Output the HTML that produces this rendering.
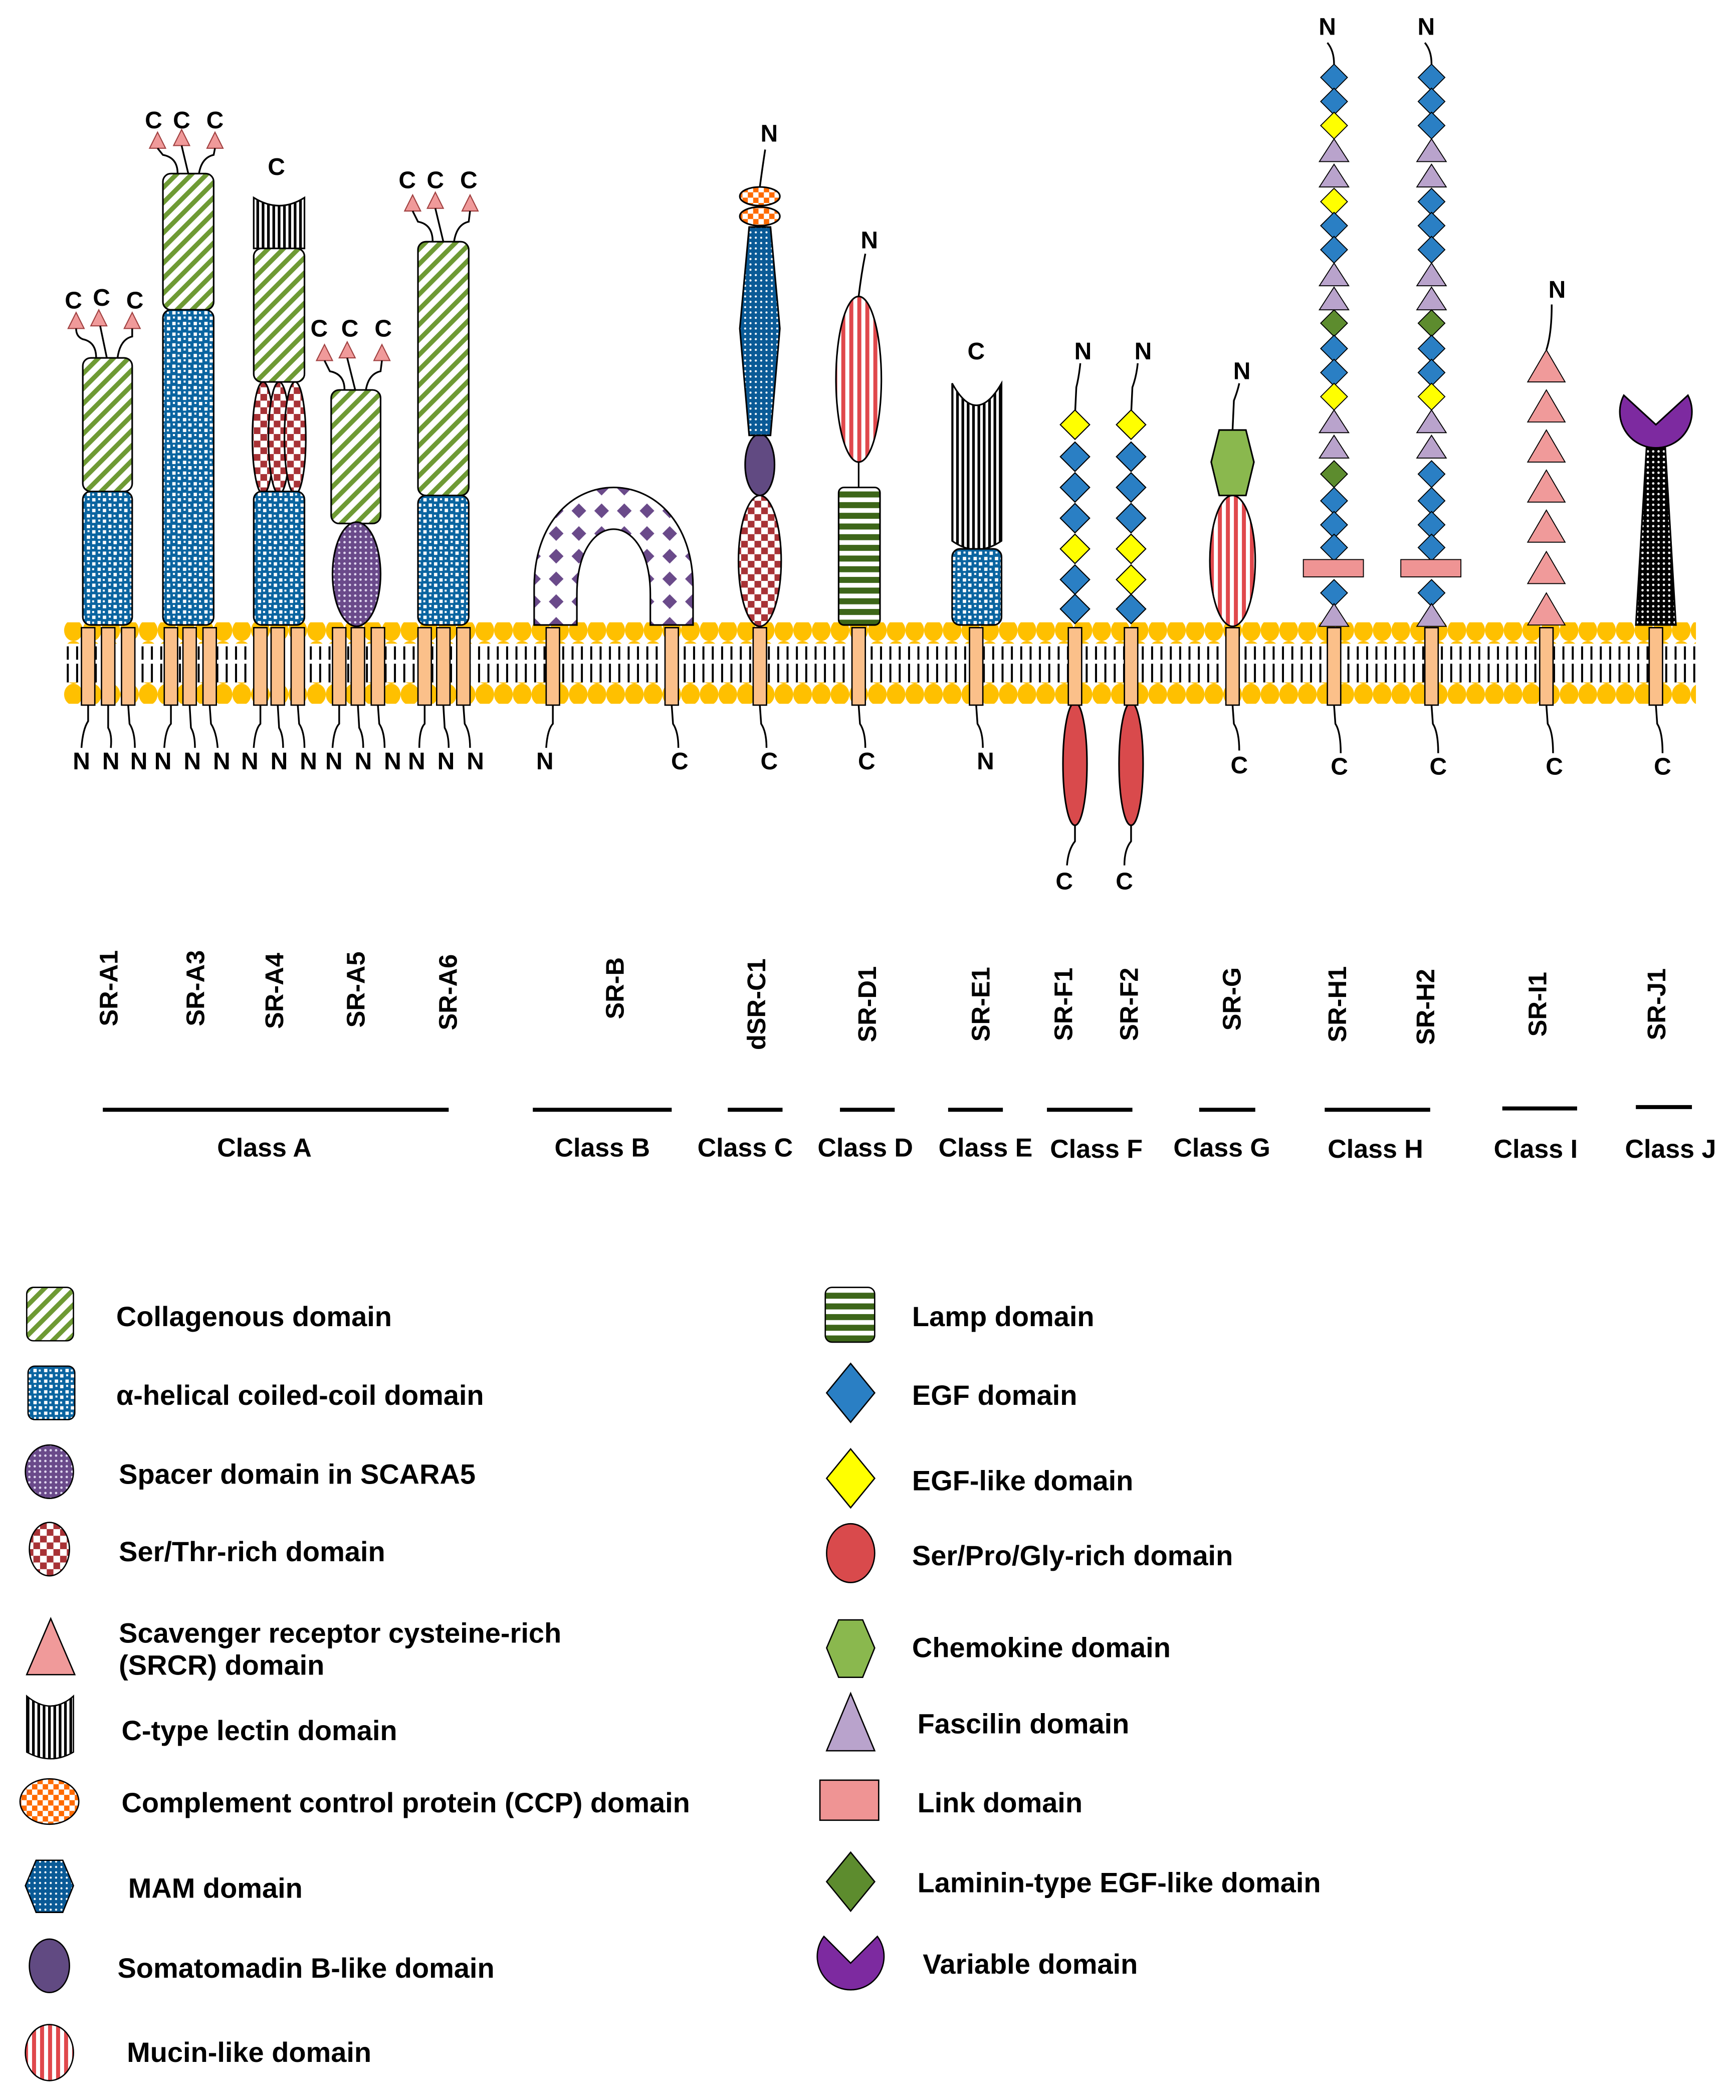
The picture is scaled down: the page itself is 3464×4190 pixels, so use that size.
<!DOCTYPE html>
<html><head><meta charset="utf-8"><style>
html,body{margin:0;padding:0;background:#fff;}
svg{display:block;}
text{font-family:"Liberation Sans",Arial,sans-serif;font-weight:bold;fill:#000;}
</style></head><body>
<svg width="3464" height="4190" viewBox="0 0 1300 1572.5" preserveAspectRatio="none" xmlns="http://www.w3.org/2000/svg">
<defs>
<pattern id="coll" width="8" height="8" patternUnits="userSpaceOnUse" patternTransform="rotate(45)"><rect width="8" height="8" fill="#fff"/><rect width="3.5" height="8" fill="#6e9a34"/></pattern>
<pattern id="blue" width="8" height="8" patternUnits="userSpaceOnUse"><rect width="8" height="8" fill="#0a64a0"/><rect x="1" y="1" width="2.5" height="2.5" fill="#fff"/><rect x="5" y="5" width="2.5" height="2.5" fill="#fff"/><rect x="5" y="1.5" width="1.5" height="1.5" fill="#fff"/><rect x="1.5" y="5" width="1.5" height="1.5" fill="#fff"/></pattern>
<pattern id="mam" width="4" height="4" patternUnits="userSpaceOnUse"><rect width="4" height="4" fill="#0a5a96"/><circle cx="2" cy="2" r="0.8" fill="#fff"/></pattern>
<pattern id="red" width="10" height="10" patternUnits="userSpaceOnUse"><rect width="10" height="10" fill="#fff"/><rect width="5" height="5" fill="#a83236"/><rect x="5" y="5" width="5" height="5" fill="#a83236"/></pattern>
<pattern id="ccp" width="8" height="8" patternUnits="userSpaceOnUse"><rect width="8" height="8" fill="#fff"/><rect width="4" height="4" fill="#ff6a00"/><rect x="4" y="4" width="4" height="4" fill="#ff6a00"/></pattern>
<pattern id="muc" width="6" height="6" patternUnits="userSpaceOnUse"><rect width="6" height="6" fill="#fff"/><rect width="3" height="6" fill="#e0484c"/></pattern>
<pattern id="lamp" width="6" height="8" patternUnits="userSpaceOnUse"><rect width="6" height="8" fill="#fff"/><rect width="6" height="4.5" fill="#3d6619"/></pattern>
<pattern id="lec" width="4" height="6" patternUnits="userSpaceOnUse"><rect width="4" height="6" fill="#fff"/><rect width="2" height="6" fill="#000"/></pattern>
<pattern id="pdot" width="4" height="4" patternUnits="userSpaceOnUse"><rect width="4" height="4" fill="#6a4a8a"/><circle cx="2" cy="2" r="0.9" fill="#e0d8f0"/></pattern>
<pattern id="sp" width="4" height="4" patternUnits="userSpaceOnUse"><rect width="4" height="4" fill="#000"/><circle cx="2" cy="2" r="0.9" fill="#fff"/></pattern>
<pattern id="srb" width="17" height="17" patternUnits="userSpaceOnUse"><rect width="17" height="17" fill="#fff"/><polygon points="8.5,3 14,8.5 8.5,14 3,8.5" fill="#6a4a8a"/></pattern>
<pattern id="mtop" width="14" height="16" patternUnits="userSpaceOnUse" x="48"><ellipse cx="7" cy="8" rx="7" ry="8" fill="#ffc000"/></pattern>
<pattern id="tails" width="7" height="40" patternUnits="userSpaceOnUse" x="48"><rect x="2" y="0" width="1.5" height="14" fill="#000"/><rect x="2" y="17" width="1.5" height="14" fill="#000"/></pattern>
<g id="tm"><rect x="-5" y="470" width="10" height="58" fill="#fbc08a" stroke="#000" stroke-width="1"/></g>
</defs>

<rect x="48" y="484" width="1222" height="31" fill="url(#tails)"/>
<rect x="48" y="466" width="1222" height="16" fill="url(#mtop)"/>
<rect x="48" y="511" width="1222" height="16" fill="url(#mtop)"/>

<g stroke="#000" stroke-width="1.2">
<rect x="62" y="268" width="37" height="100" rx="6" fill="url(#coll)"/>
<rect x="62" y="368" width="37" height="100" rx="6" fill="url(#blue)"/>
<rect x="122" y="130" width="38" height="102" rx="6" fill="url(#coll)"/>
<rect x="122" y="232" width="38" height="236" rx="6" fill="url(#blue)"/>
<path d="M190,148 Q209,160 228,148 L228,186 L190,186 Z" fill="url(#lec)"/>
<rect x="190" y="186" width="38" height="100" rx="6" fill="url(#coll)"/>
<ellipse cx="197" cy="328" rx="8" ry="42" fill="url(#red)"/>
<ellipse cx="209" cy="328" rx="8" ry="42" fill="url(#red)"/>
<ellipse cx="221" cy="328" rx="8" ry="42" fill="url(#red)"/>
<rect x="190" y="368" width="38" height="100" rx="6" fill="url(#blue)"/>
<rect x="248" y="292" width="37" height="100" rx="6" fill="url(#coll)"/>
<ellipse cx="267" cy="430" rx="18" ry="39" fill="url(#pdot)"/>
<rect x="313" y="181" width="38" height="190" rx="6" fill="url(#coll)"/>
<rect x="313" y="371" width="38" height="97" rx="6" fill="url(#blue)"/>
<path d="M400,468 L400,440 C400,340 519,340 519,440 L519,468 L487,468 L487,445 C487,380 432,380 432,445 L432,468 Z" fill="url(#srb)"/>
<ellipse cx="569" cy="420" rx="16" ry="49" fill="url(#red)"/>
<ellipse cx="569" cy="348" rx="11" ry="23" fill="#614a82"/>
<polygon points="561,170 577,170 584,246 577,326 561,326 554,246" fill="url(#mam)"/>
<ellipse cx="569" cy="147" rx="15" ry="7" fill="url(#ccp)"/>
<ellipse cx="569" cy="162" rx="15" ry="7" fill="url(#ccp)"/>
<line x1="643" y1="346" x2="643" y2="366"/>
<rect x="628" y="365" width="31" height="103" rx="4" fill="url(#lamp)"/>
<ellipse cx="643" cy="284" rx="17" ry="62" fill="url(#muc)"/>
<path d="M713,287 Q731,320 750,287 L750,405 Q731,418 713,405 Z" fill="url(#lec)"/>
<rect x="713" y="411" width="37" height="57" rx="6" fill="url(#blue)"/>
<ellipse cx="923" cy="420" rx="17" ry="49" fill="url(#muc)"/>
<polygon points="913,322 933,322 939,346 933,371 913,371 907,346" fill="#8ab84e"/>
<polygon points="1233,335 1247,335 1251,401 1255,468 1225,468 1229,401" fill="url(#sp)"/>
<path d="M1240,318 L1216,296 A27,27 0 1 0 1264,296 Z" fill="#7d2aa0"/>
<ellipse cx="805" cy="572" rx="9" ry="46" fill="#d94a4c"/>
<ellipse cx="847" cy="572" rx="9" ry="46" fill="#d94a4c"/>
</g>

<g>
<use href="#tm" x="66"/><use href="#tm" x="81"/><use href="#tm" x="96"/>
<use href="#tm" x="128"/><use href="#tm" x="142"/><use href="#tm" x="157"/>
<use href="#tm" x="195"/><use href="#tm" x="208"/><use href="#tm" x="223"/>
<use href="#tm" x="254"/><use href="#tm" x="268"/><use href="#tm" x="283"/>
<use href="#tm" x="318"/><use href="#tm" x="332"/><use href="#tm" x="347"/>
<use href="#tm" x="414"/><use href="#tm" x="503"/><use href="#tm" x="569"/>
<use href="#tm" x="643"/><use href="#tm" x="731"/><use href="#tm" x="805"/>
<use href="#tm" x="847"/><use href="#tm" x="923"/><use href="#tm" x="999"/>
<use href="#tm" x="1072"/><use href="#tm" x="1158"/><use href="#tm" x="1240"/>
</g>

<g fill="#f09a9a" stroke="#a04040" stroke-width="0.8">
<polygon points="57,234 63,246 51,246"/><polygon points="74,232 80,244 68,244"/><polygon points="99,234 105,246 93,246"/>
<polygon points="118,99 124,111 112,111"/><polygon points="136,97 142,109 130,109"/><polygon points="161,99 167,111 155,111"/>
<polygon points="243,258 249,270 237,270"/><polygon points="260,256 266,268 254,268"/><polygon points="286,258 292,270 280,270"/>
<polygon points="309,146 315,158 303,158"/><polygon points="326,144 332,156 320,156"/><polygon points="352,146 358,158 346,158"/>
</g>
<g fill="none" stroke="#000" stroke-width="1.3">
<path d="M72,268 Q72,256 62,254 Q57,252 57,246"/><path d="M80,268 L75,244"/><path d="M88,268 Q90,254 99,252 L99,246"/>
<path d="M133,130 Q133,118 122,116 L118,111"/><path d="M141,130 L136,109"/><path d="M149,130 Q151,118 160,116 L161,111"/>
<path d="M258,292 Q258,280 247,278 L243,270"/><path d="M266,292 L260,268"/><path d="M274,292 Q276,280 285,278 L286,270"/>
<path d="M324,181 Q324,168 313,166 L309,158"/><path d="M332,181 L326,156"/><path d="M340,181 Q342,168 351,166 L352,158"/>
<path d="M569,140 Q571,125 573,112"/><path d="M643,222 Q645,205 648,190"/><path d="M805,311 L806,290 Q808,282 809,272"/>
<path d="M847,311 L848,290 Q851,282 852,272"/><path d="M923,322 L924,300 Q927,292 928,287"/>
<path d="M999,48 Q999,38 994,32"/><path d="M1072,48 Q1072,38 1067,32"/><path d="M1158,262 Q1162,250 1162,228"/>
</g>
<g fill="none" stroke="#000" stroke-width="1.3">
<path d="M66,528 L66,540 Q62,546 61,560"/><path d="M81,528 L81,545 Q84,550 83,560"/><path d="M96,528 L97,542 Q101,548 101,560"/>
<path d="M128,528 L128,542 Q124,546 123,560"/><path d="M142,528 L143,545 Q146,550 146,560"/><path d="M157,528 L158,542 Q162,548 163,560"/>
<path d="M195,528 L195,542 Q191,546 190,560"/><path d="M208,528 L209,545 Q212,550 212,560"/><path d="M223,528 L224,542 Q228,548 228,560"/>
<path d="M254,528 L254,542 Q250,546 249,560"/><path d="M268,528 L269,545 Q272,550 272,560"/><path d="M283,528 L284,542 Q288,548 288,560"/>
<path d="M318,528 L318,542 Q314,546 314,560"/><path d="M332,528 L333,545 Q336,550 336,560"/><path d="M347,528 L348,542 Q352,548 352,560"/>
<path d="M414,528 L414,542 Q410,546 409,560"/><path d="M503,528 L504,542 Q508,548 508,560"/><path d="M569,528 L570,542 Q574,548 574,560"/>
<path d="M643,528 L644,542 Q648,548 648,560"/><path d="M731,528 L732,542 Q736,548 736,560"/>
<path d="M923,528 L924,542 Q928,548 928,562"/><path d="M999,528 L1000,542 Q1004,548 1004,564"/><path d="M1072,528 L1073,542 Q1077,548 1077,564"/>
<path d="M1158,528 L1159,542 Q1163,548 1163,564"/><path d="M1240,528 L1241,542 Q1245,548 1245,564"/>
<path d="M805,618 L805,630 Q800,636 799,648"/><path d="M847,618 L847,630 Q842,636 842,648"/>
</g>

<g stroke="#000" stroke-width="0.8">
<polygon points="805,307 816,318 805,329 794,318" fill="#ffff00"/>
<polygon points="805,331 816,342 805,353 794,342" fill="#2a7fc4"/>
<polygon points="805,354 816,365 805,376 794,365" fill="#2a7fc4"/>
<polygon points="805,377 816,388 805,399 794,388" fill="#2a7fc4"/>
<polygon points="805,400 816,411 805,422 794,411" fill="#ffff00"/>
<polygon points="805,423 816,434 805,445 794,434" fill="#2a7fc4"/>
<polygon points="805,445 816,456 805,467 794,456" fill="#2a7fc4"/>
<polygon points="847,307 858,318 847,329 836,318" fill="#ffff00"/>
<polygon points="847,331 858,342 847,353 836,342" fill="#2a7fc4"/>
<polygon points="847,354 858,365 847,376 836,365" fill="#2a7fc4"/>
<polygon points="847,377 858,388 847,399 836,388" fill="#2a7fc4"/>
<polygon points="847,400 858,411 847,422 836,411" fill="#ffff00"/>
<polygon points="847,423 858,434 847,445 836,434" fill="#ffff00"/>
<polygon points="847,445 858,456 847,467 836,456" fill="#2a7fc4"/>
</g>

<g stroke="#000" stroke-width="0.7">
<polygon points="999,48 1009,58 999,68 989,58" fill="#2a7fc4"/>
<polygon points="999,66 1009,76 999,86 989,76" fill="#2a7fc4"/>
<polygon points="999,84 1009,94 999,104 989,94" fill="#ffff00"/>
<polygon points="999,104 1010,121 988,121" fill="#b9a3cc"/>
<polygon points="999,123 1010,140 988,140" fill="#b9a3cc"/>
<polygon points="999,141 1009,151 999,161 989,151" fill="#ffff00"/>
<polygon points="999,159 1009,169 999,179 989,169" fill="#2a7fc4"/>
<polygon points="999,177 1009,187 999,197 989,187" fill="#2a7fc4"/>
<polygon points="999,197 1010,214 988,214" fill="#b9a3cc"/>
<polygon points="999,215 1010,232 988,232" fill="#b9a3cc"/>
<polygon points="999,232 1009,242 999,252 989,242" fill="#5d8c2e"/>
<polygon points="999,251 1009,261 999,271 989,261" fill="#2a7fc4"/>
<polygon points="999,269 1009,279 999,289 989,279" fill="#2a7fc4"/>
<polygon points="999,287 1009,297 999,307 989,297" fill="#ffff00"/>
<polygon points="999,307 1010,324 988,324" fill="#b9a3cc"/>
<polygon points="999,326 1010,343 988,343" fill="#b9a3cc"/>
<polygon points="999,345 1009,355 999,365 989,355" fill="#5d8c2e"/>
<polygon points="999,365 1009,375 999,385 989,375" fill="#2a7fc4"/>
<polygon points="999,383 1009,393 999,403 989,393" fill="#2a7fc4"/>
<polygon points="999,400 1009,410 999,420 989,410" fill="#2a7fc4"/>
<rect x="976" y="419" width="45" height="13" fill="#ef9494"/>
<polygon points="999,434 1009,444 999,454 989,444" fill="#2a7fc4"/>
<polygon points="999,452 1010,469 988,469" fill="#b9a3cc"/>
<polygon points="1072,48 1082,58 1072,68 1062,58" fill="#2a7fc4"/>
<polygon points="1072,66 1082,76 1072,86 1062,76" fill="#2a7fc4"/>
<polygon points="1072,84 1082,94 1072,104 1062,94" fill="#2a7fc4"/>
<polygon points="1072,104 1083,121 1061,121" fill="#b9a3cc"/>
<polygon points="1072,123 1083,140 1061,140" fill="#b9a3cc"/>
<polygon points="1072,141 1082,151 1072,161 1062,151" fill="#2a7fc4"/>
<polygon points="1072,159 1082,169 1072,179 1062,169" fill="#2a7fc4"/>
<polygon points="1072,177 1082,187 1072,197 1062,187" fill="#2a7fc4"/>
<polygon points="1072,197 1083,214 1061,214" fill="#b9a3cc"/>
<polygon points="1072,215 1083,232 1061,232" fill="#b9a3cc"/>
<polygon points="1072,232 1082,242 1072,252 1062,242" fill="#5d8c2e"/>
<polygon points="1072,251 1082,261 1072,271 1062,261" fill="#2a7fc4"/>
<polygon points="1072,269 1082,279 1072,289 1062,279" fill="#2a7fc4"/>
<polygon points="1072,287 1082,297 1072,307 1062,297" fill="#ffff00"/>
<polygon points="1072,307 1083,324 1061,324" fill="#b9a3cc"/>
<polygon points="1072,326 1083,343 1061,343" fill="#b9a3cc"/>
<polygon points="1072,345 1082,355 1072,365 1062,355" fill="#2a7fc4"/>
<polygon points="1072,365 1082,375 1072,385 1062,375" fill="#2a7fc4"/>
<polygon points="1072,383 1082,393 1072,403 1062,393" fill="#2a7fc4"/>
<polygon points="1072,400 1082,410 1072,420 1062,410" fill="#2a7fc4"/>
<rect x="1049" y="419" width="45" height="13" fill="#ef9494"/>
<polygon points="1072,434 1082,444 1072,454 1062,444" fill="#2a7fc4"/>
<polygon points="1072,452 1083,469 1061,469" fill="#b9a3cc"/>
<polygon points="1158,262 1172,286 1144,286" fill="#f09a9a"/>
<polygon points="1158,292 1172,316 1144,316" fill="#f09a9a"/>
<polygon points="1158,322 1172,346 1144,346" fill="#f09a9a"/>
<polygon points="1158,352 1172,376 1144,376" fill="#f09a9a"/>
<polygon points="1158,382 1172,406 1144,406" fill="#f09a9a"/>
<polygon points="1158,413 1172,437 1144,437" fill="#f09a9a"/>
<polygon points="1158,444 1172,468 1144,468" fill="#f09a9a"/>
</g>

<g font-size="18" text-anchor="middle">
<text x="55" y="231">C</text><text x="76" y="229">C</text><text x="101" y="231">C</text>
<text x="115" y="96">C</text><text x="136" y="96">C</text><text x="161" y="96">C</text>
<text x="207" y="131">C</text>
<text x="239" y="252">C</text><text x="262" y="252">C</text><text x="287" y="252">C</text>
<text x="305" y="141">C</text><text x="326" y="141">C</text><text x="351" y="141">C</text>
<text x="576" y="106">N</text><text x="651" y="186">N</text><text x="731" y="269">C</text>
<text x="811" y="269">N</text><text x="856" y="269">N</text><text x="930" y="284">N</text>
<text x="994" y="26">N</text><text x="1068" y="26">N</text><text x="1166" y="223">N</text>
<text x="61" y="576">N</text><text x="83" y="576">N</text><text x="104" y="576">N</text>
<text x="122" y="576">N</text><text x="144" y="576">N</text><text x="166" y="576">N</text>
<text x="187" y="576">N</text><text x="209" y="576">N</text><text x="231" y="576">N</text>
<text x="250" y="576">N</text><text x="272" y="576">N</text><text x="294" y="576">N</text>
<text x="312" y="576">N</text><text x="334" y="576">N</text><text x="356" y="576">N</text>
<text x="408" y="576">N</text><text x="509" y="576">C</text><text x="576" y="576">C</text>
<text x="649" y="576">C</text><text x="738" y="576">N</text><text x="928" y="579">C</text>
<text x="1003" y="580">C</text><text x="1077" y="580">C</text><text x="1164" y="580">C</text><text x="1245" y="580">C</text>
<text x="797" y="666">C</text><text x="842" y="666">C</text>
</g>

<g font-size="19" text-anchor="middle">
<text transform="translate(88,740) rotate(-90)">SR-A1</text>
<text transform="translate(153,740) rotate(-90)">SR-A3</text>
<text transform="translate(212,742) rotate(-90)">SR-A4</text>
<text transform="translate(273,741) rotate(-90)">SR-A5</text>
<text transform="translate(342,743) rotate(-90)">SR-A6</text>
<text transform="translate(467,740) rotate(-90)">SR-B</text>
<text transform="translate(573,752) rotate(-90)">dSR-C1</text>
<text transform="translate(656,752) rotate(-90)">SR-D1</text>
<text transform="translate(741,752) rotate(-90)">SR-E1</text>
<text transform="translate(803,752) rotate(-90)">SR-F1</text>
<text transform="translate(852,752) rotate(-90)">SR-F2</text>
<text transform="translate(929,748) rotate(-90)">SR-G</text>
<text transform="translate(1008,752) rotate(-90)">SR-H1</text>
<text transform="translate(1074,754) rotate(-90)">SR-H2</text>
<text transform="translate(1158,752) rotate(-90)">SR-I1</text>
<text transform="translate(1247,752) rotate(-90)">SR-J1</text>
</g>

<g stroke="#000" stroke-width="3">
<line x1="77" y1="831" x2="336" y2="831"/><line x1="399" y1="831" x2="503" y2="831"/>
<line x1="545" y1="831" x2="586" y2="831"/><line x1="629" y1="831" x2="670" y2="831"/>
<line x1="710" y1="831" x2="751" y2="831"/><line x1="784" y1="831" x2="848" y2="831"/>
<line x1="898" y1="831" x2="940" y2="831"/><line x1="992" y1="831" x2="1071" y2="831"/>
<line x1="1125" y1="830" x2="1181" y2="830"/><line x1="1225" y1="829" x2="1267" y2="829"/>
</g>
<g font-size="19.5" text-anchor="middle">
<text x="198" y="866">Class A</text><text x="451" y="866">Class B</text><text x="558" y="866">Class C</text>
<text x="648" y="866">Class D</text><text x="738" y="866">Class E</text><text x="821" y="867">Class F</text>
<text x="915" y="866">Class G</text><text x="1030" y="867">Class H</text><text x="1150" y="867">Class I</text>
<text x="1251" y="867">Class J</text>
</g>

<g stroke="#000" stroke-width="1">
<rect x="20" y="964" width="35" height="40" rx="5" fill="url(#coll)"/>
<rect x="21" y="1023" width="35" height="40" rx="5" fill="url(#blue)"/>
<ellipse cx="37" cy="1102" rx="18" ry="20" fill="url(#pdot)"/>
<ellipse cx="37" cy="1160" rx="15" ry="20" fill="url(#red)"/>
<polygon points="38,1212 56,1254 20,1254" fill="#f09a9a"/>
<path d="M20,1270 Q38,1285 55,1270 L55,1312 Q38,1322 20,1312 Z" fill="url(#lec)"/>
<ellipse cx="37" cy="1349" rx="22" ry="17" fill="url(#ccp)"/>
<polygon points="27,1393 47,1393 55,1412 47,1432 27,1432 19,1412" fill="url(#mam)"/>
<ellipse cx="37" cy="1472" rx="15" ry="20" fill="#614a82"/>
<ellipse cx="37" cy="1537" rx="18" ry="21" fill="url(#muc)"/>
</g>
<g font-size="21">
<text x="87" y="993">Collagenous domain</text>
<text x="87" y="1052">α-helical coiled-coil domain</text>
<text x="89" y="1111">Spacer domain in SCARA5</text>
<text x="89" y="1169">Ser/Thr-rich domain</text>
<text x="89" y="1230">Scavenger receptor cysteine-rich</text>
<text x="89" y="1254">(SRCR) domain</text>
<text x="91" y="1303">C-type lectin domain</text>
<text x="91" y="1357">Complement control protein (CCP) domain</text>
<text x="96" y="1421">MAM domain</text>
<text x="88" y="1481">Somatomadin B-like domain</text>
<text x="95" y="1544">Mucin-like domain</text>
</g>
<g stroke="#000" stroke-width="1">
<rect x="618" y="964" width="37" height="41" rx="5" fill="url(#lamp)"/>
<polygon points="637,1021 655,1043 637,1065 619,1043" fill="#2a7fc4"/>
<polygon points="637,1085 655,1107 637,1129 619,1107" fill="#ffff00"/>
<ellipse cx="637" cy="1163" rx="18" ry="22" fill="#d94a4c"/>
<polygon points="628,1213 646,1213 655,1234 646,1256 628,1256 619,1234" fill="#8ab84e"/>
<polygon points="637,1268 655,1311 619,1311" fill="#b9a3cc"/>
<rect x="614" y="1333" width="44" height="30" fill="#ef9494"/>
<polygon points="637,1387 655,1409 637,1431 619,1409" fill="#5d8c2e"/>
<path d="M637,1470 L617,1450 A25,25 0 1 0 657,1450 Z" fill="#7d2aa0"/>
</g>
<g font-size="21">
<text x="683" y="993">Lamp domain</text>
<text x="683" y="1052">EGF domain</text>
<text x="683" y="1116">EGF-like domain</text>
<text x="683" y="1172">Ser/Pro/Gly-rich domain</text>
<text x="683" y="1241">Chemokine domain</text>
<text x="687" y="1298">Fascilin domain</text>
<text x="687" y="1357">Link domain</text>
<text x="687" y="1417">Laminin-type EGF-like domain</text>
<text x="691" y="1478">Variable domain</text>
</g>
</svg>
</body></html>
